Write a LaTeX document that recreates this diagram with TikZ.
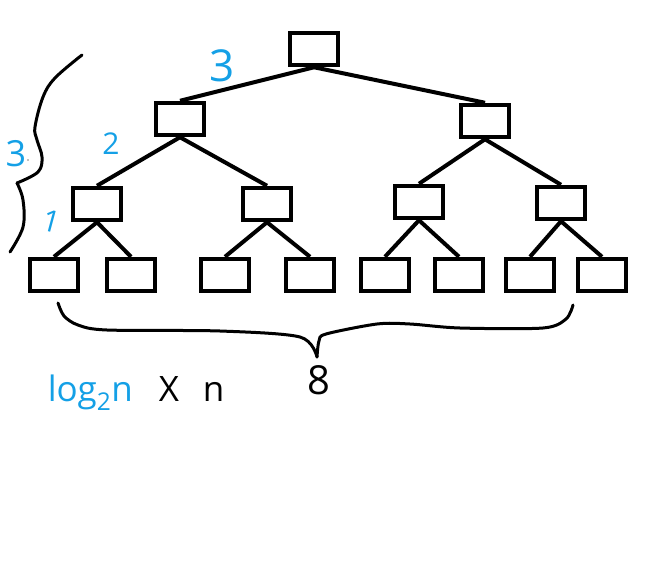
\documentclass[tikz,border=0pt]{standalone}
\usepackage{fontspec}
\setmainfont{Open Sans}
\usetikzlibrary{positioning}
\definecolor{cblue}{HTML}{14A0E6}
\definecolor{cink}{HTML}{000000}
\tikzset{
  every picture/.style={x=1pt, y=-1pt, line width=3.5pt},
  cell/.style={draw=cink, fill=white, line width=4.5pt, minimum width=48pt, minimum height=32pt, inner sep=0pt},
  edge/.style={draw=cink, line width=4pt},
  brace/.style={draw=cink, line width=3pt, line cap=round, line join=round},
  count/.style={text=cblue, inner sep=0pt},
}

\begin{document}
\begin{tikzpicture}
  \useasboundingbox (0,0) rectangle (645,565);
  % tree
  \node[cell] (r) at (314,49) {};
  \node[cell] (a1) at (180,119) {};
  \node[cell] (a2) at (485,121) {};
  \foreach \i/\x/\y in {1/97/204, 2/267/204, 3/419/202, 4/561/203}
    \node[cell] (b\i) at (\x,\y) {};
  \foreach \i/\x in {1/54, 2/131, 3/225, 4/310, 5/385, 6/459, 7/530, 8/602}
    \node[cell] (c\i) at (\x,275) {};
  \foreach \p/\c in {r/a1, r/a2, a1/b1, a1/b2, a2/b3, a2/b4,
                     b1/c1, b1/c2, b2/c3, b2/c4, b3/c5, b3/c6, b4/c7, b4/c8}
    \draw[edge] (\p.south) -- (\c.north);
  % level counts
  \node[count, font=\fontsize{44}{44}\selectfont] (l3) at (222,66) {3};
  \node[count, font=\fontsize{30}{30}\selectfont] (l2) at (111,144) {2};
  \node[count, font=\fontsize{30}{30}\selectfont, rotate=-15] (l1) at (52,221) {1};
  % left brace: height
  \draw[brace] plot[smooth, tension=0.6] coordinates {(82,55) (55,78) (43,97) (35,127) (37,140) (42,157) (38,172) (17,183)};
  \draw[brace] plot[smooth, tension=0.6] coordinates {(17,183) (23,200) (23,227) (10,252)};
  \node[count, font=\fontsize{36}{36}\selectfont] (h) at (16,154) {3};
  \fill[gray] (28,160) circle (0.8);
  % bottom brace: leaves
  \draw[brace] plot[smooth, tension=0.5] coordinates {(58,303) (64,316) (78,325) (107,330) (220,331) (300,337) (317,357)};
  \draw[brace] plot[smooth, tension=0.5] coordinates {(317,357) (319,341) (326,334) (377,324) (410,324) (460,328) (543,328) (566,319) (573,305)};
  \node[font=\fontsize{40}{40}\selectfont, inner sep=0pt] (w) at (319,380) {8};
  % cost
  \node[anchor=base west, text=cblue, inner sep=0pt, font=\fontsize{35}{35}\selectfont] (lg) at (46,401) {log\textsubscript{2}n};
  \node[anchor=base west, inner sep=0pt, font=\fontsize{35}{35}\selectfont] (xn) at (157,401) {X\hspace{24pt}n};
\end{tikzpicture}
\end{document}
